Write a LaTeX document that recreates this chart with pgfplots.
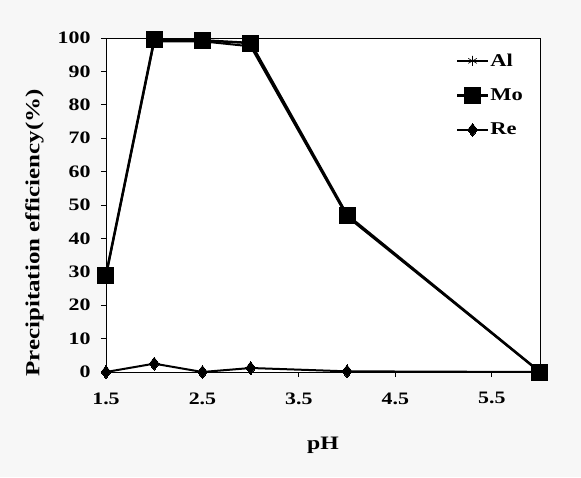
\documentclass[border=0pt]{standalone}
\usepackage{graphicx}
\usepackage{pgfplots}
\pgfplotsset{compat=1.18}
\usepackage{fontspec}
\setmainfont{Liberation Serif}
\newcommand{\wide}[1]{\scalebox{1.25}[1]{#1}}
\begin{document}
\begin{tikzpicture}[x=1pt,y=1pt]
\fill[black!3] (-106,-105) rectangle (475,372);
\begin{axis}[
  at={(0,0)}, anchor=south west,
  scale only axis, width=434pt, height=334pt,
  xmin=1.5, xmax=6, ymin=0, ymax=100,
  xtick={1.5,2.5,3.5,4.5,5.5},
  xticklabels={\wide{1.5},\wide{2.5},\wide{3.5},\wide{4.5},\wide{5.5}},
  ytick={0,10,...,100},
  yticklabel={\wide{\pgfmathprintnumber{\tick}}},
  tick align=outside, xtick pos=left, ytick pos=left,
  major tick length=5pt,
  tick style={black, line width=0.8pt},
  axis line style={line width=0.8pt},
  axis background/.style={fill=white},
  /pgf/number format/assume math mode=true,
  tick label style={font=\fontsize{17.5}{20}\selectfont\bfseries},
  xticklabel style={yshift=-12pt},
  yticklabel style={xshift=-7pt},
  xlabel={\wide{pH}},
  ylabel={\scalebox{1.25}[1]{Precipitation efficiency(\%)}},
  xlabel style={font=\fontsize{19}{22}\selectfont\bfseries, yshift=-26pt},
  ylabel style={font=\fontsize{20}{22}\selectfont\bfseries,
    at={(axis description cs:-0.165,0.416)}, anchor=center},
  legend style={draw=none, fill=none, at={(0.97,0.965)}, anchor=north east,
    font=\fontsize{18}{20}\selectfont\bfseries, row sep=17pt,
    nodes={inner xsep=1pt}},
  legend cell align=left,
  legend image code/.code={
    \draw[#1] (0pt,0pt) -- (31pt,0pt);
    \draw[#1, only marks] plot coordinates {(15.5pt,0pt)};
  },
]
\addplot[black, line width=2pt, mark=asterisk, mark size=5pt, mark options={line width=0.6pt}]
  coordinates {(1.5,29) (2,99) (2.5,99) (3,97.5) (4,46.5) (6,0)};
\addlegendentry{\wide{Al}}
\addplot[black, line width=2.5pt, mark=square*, mark size=8pt, mark options={line width=0pt}]
  coordinates {(1.5,29) (2,99.5) (2.5,99.3) (3,98.5) (4,47) (6,0)};
\addlegendentry{\wide{Mo}}
\addplot[black, line width=2pt, mark=diamond*, mark size=6.5pt, mark options={line width=0pt}]
  coordinates {(1.5,0) (2,2.5) (2.5,0) (3,1.2) (4,0.2) (6,0)};
\addlegendentry{\wide{Re}}
\end{axis}
\end{tikzpicture}
\end{document}
